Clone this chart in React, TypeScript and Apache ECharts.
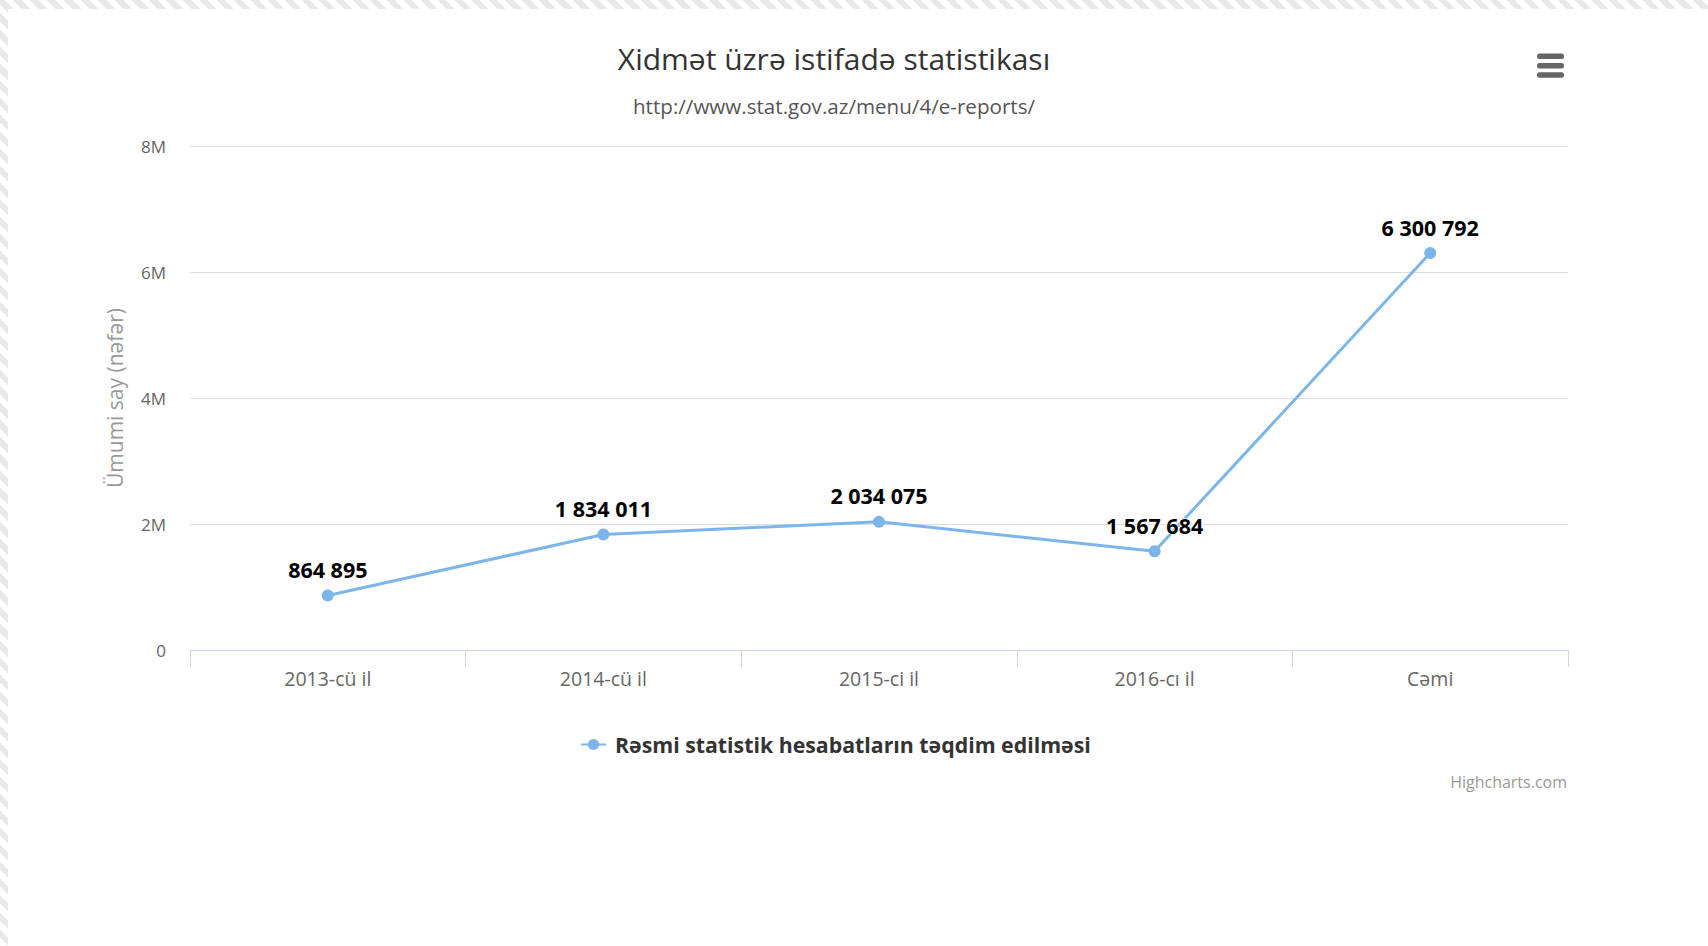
import React, { useEffect, useRef } from "react";
import * as echarts from "echarts";

const categories = ["2013-cü il", "2014-cü il", "2015-ci il", "2016-cı il", "Cəmi"];
const seriesValues = [864895, 1834011, 2034075, 1567684, 6300792];
const seriesName = "Rəsmi statistik hesabatların təqdim edilməsi";
const titleText = "Xidmət üzrə istifadə statistikası";
const subtitleText = "http://www.stat.gov.az/menu/4/e-reports/";
const yAxisName = "Ümumi say (nəfər)";
const creditsText = "Highcharts.com";

const FONT = "'Open Sans', 'Noto Sans', sans-serif";

const fmtThousands = (v: number) => String(v).replace(/\B(?=(\d{3})+(?!\d))/g, " ");

export default function App() {
  const ref = useRef<HTMLDivElement>(null);
  useEffect(() => {
    document.body.style.margin = "0";
    if (!ref.current) return;
    const chart = echarts.init(ref.current, undefined, { renderer: "svg" });
    chart.setOption({
      animation: false,
      backgroundColor: "transparent",
      textStyle: { fontFamily: FONT },
      grid: { left: 190, right: 140, top: 146, bottom: 296 },
      legend: {
        left: 575,
        top: 729,
        itemWidth: 25,
        itemHeight: 14,
        itemGap: 20,
        textStyle: {
          fontFamily: FONT,
          fontSize: 21.3,
          fontWeight: "bold",
          color: "#333",
          padding: [0, 0, 0, 4],
        },
        data: [seriesName],
      },
      xAxis: {
        type: "category",
        data: categories,
        boundaryGap: true,
        axisLine: { show: true, lineStyle: { color: "#ccd6eb", width: 1 } },
        axisTick: { show: true, length: 17, interval: 0, lineStyle: { color: "#ccd6eb" } },
        axisLabel: { color: "#666", fontSize: 19.5, margin: 18, fontFamily: FONT },
        splitLine: { show: false },
      },
      yAxis: {
        type: "value",
        min: 0,
        max: 8000000,
        interval: 2000000,
        name: yAxisName,
        nameLocation: "middle",
        nameRotate: 90,
        nameGap: 65,
        nameTextStyle: { color: "#999", fontSize: 21, fontFamily: FONT },
        axisLine: { show: false },
        axisTick: { show: false },
        axisLabel: {
          color: "#666",
          fontSize: 17,
          margin: 24,
          fontFamily: FONT,
          formatter: (v: number) => (v === 0 ? "0" : v / 1000000 + "M"),
        },
        splitLine: { show: true, lineStyle: { color: "#dddddd", width: 1 } },
      },
      series: [
        {
          name: seriesName,
          type: "line",
          data: seriesValues,
          symbol: "circle",
          symbolSize: 12,
          color: "#7cb5ec",
          lineStyle: { width: 3, color: "#7cb5ec" },
          itemStyle: { color: "#7cb5ec" },
          label: {
            show: true,
            position: "top",
            distance: 9,
            color: "#000",
            fontSize: 21.5,
            fontWeight: "bold",
            fontFamily: FONT,
            textBorderColor: "#fff",
            textBorderWidth: 1.5,
            formatter: (p: any) => fmtThousands(p.value),
          },
        },
      ],
      graphic: [
        {
          type: "text",
          x: 834,
          y: 58,
          style: { text: titleText, fill: "#333", font: `30px ${FONT}`, textAlign: "center", textVerticalAlign: "middle" },
        },
        {
          type: "text",
          x: 834,
          y: 106,
          style: { text: subtitleText, fill: "#555", font: `20.6px ${FONT}`, textAlign: "center", textVerticalAlign: "middle" },
        },
        {
          type: "text",
          x: 1567,
          y: 782,
          style: { text: creditsText, fill: "#999", font: `16px ${FONT}`, textAlign: "right", textVerticalAlign: "middle" },
        },
        { type: "rect", shape: { x: 1537, y: 53.5, width: 27, height: 5.5, r: 2.5 }, style: { fill: "#666" } },
        { type: "rect", shape: { x: 1537, y: 62.9, width: 27, height: 5.5, r: 2.5 }, style: { fill: "#666" } },
        { type: "rect", shape: { x: 1537, y: 72.3, width: 27, height: 5.5, r: 2.5 }, style: { fill: "#666" } },
      ],
    });
    return () => chart.dispose();
  }, []);

  return (
    <div
      style={{
        position: "fixed",
        left: 0,
        top: 0,
        width: 1708,
        height: 946,
        background:
          "repeating-linear-gradient(45deg, #ffffff 0px, #ffffff 6px, #e8e8e8 6px, #e8e8e8 12px)",
        overflow: "hidden",
      }}
    >
      <div style={{ position: "absolute", left: 8, top: 9, width: 1700, height: 937, background: "#fff" }} />
      <div ref={ref} style={{ position: "absolute", left: 0, top: 0, width: 1708, height: 946 }} />
    </div>
  );
}
